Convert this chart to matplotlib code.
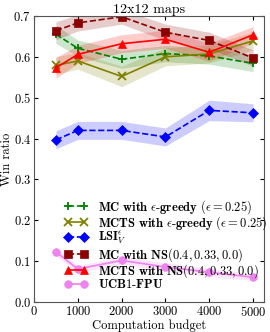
import numpy as np
import matplotlib
matplotlib.use('Agg')
import matplotlib.pyplot as plt

plt.rcParams['font.family'] = 'serif'
plt.rcParams['font.serif'] = ['cmr10', 'DejaVu Serif']
plt.rcParams['mathtext.fontset'] = 'cm'
plt.rcParams['axes.formatter.use_mathtext'] = True
plt.rcParams['axes.unicode_minus'] = False

# computation budgets
budget = [500, 1000, 2000, 3000, 4000, 5000]

# win ratios per method
mc_eps = [0.655, 0.621, 0.594, 0.608, 0.602, 0.584]
mcts_eps = [0.579, 0.590, 0.552, 0.600, 0.607, 0.639]
lsi = [0.397, 0.420, 0.420, 0.404, 0.469, 0.463]
mc_ns = [0.664, 0.683, 0.698, 0.660, 0.640, 0.597]
mcts_ns = [0.573, 0.606, 0.632, 0.643, 0.611, 0.654]
ucb = [0.123, 0.081, 0.102, 0.086, 0.073, 0.061]

# band half widths (read from shading)
mc_eps_err = [0.022, 0.020, 0.022, 0.020, 0.020, 0.020]
mcts_eps_err = [0.022, 0.020, 0.025, 0.022, 0.022, 0.022]
lsi_err = [0.022, 0.022, 0.022, 0.022, 0.025, 0.022]
mc_ns_err = [0.022, 0.020, 0.018, 0.020, 0.020, 0.020]
mcts_ns_err = [0.025, 0.022, 0.022, 0.022, 0.022, 0.020]
ucb_err = [0.010, 0.008, 0.010, 0.010, 0.010, 0.008]

series = [
    (mc_eps, mc_eps_err, r'$\mathbf{MC\ with\ }\epsilon\mathbf{\text{-}greedy}\ (\epsilon=0.25)$', '#008000', '--', '+'),
    (mcts_eps, mcts_eps_err, r'$\mathbf{MCTS\ with\ }\epsilon\mathbf{\text{-}greedy}\ (\epsilon=0.25)$', '#808000', '-', 'x'),
    (lsi, lsi_err, r'$\mathbf{LSI}_V^\epsilon$', '#0000ff', '--', 'D'),
    (mc_ns, mc_ns_err, r'$\mathbf{MC\ with\ NS}(0.4,0.33,0.0)$', '#8b0000', '--', 's'),
    (mcts_ns, mcts_ns_err, r'$\mathbf{MCTS\ with\ NS}(0.4,0.33,0.0)$', '#ff0000', '-', '^'),
    (ucb, ucb_err, r'$\mathbf{UCB1\text{-}FPU}$', '#ee82ee', '-', 'o'),
]

fig = plt.figure(figsize=(2.7, 3.32), dpi=100)
ax = fig.add_axes([0.126, 0.09, 0.852, 0.862])

x = np.array(budget)
for y, e, lab, c, ls, m in series:
    y = np.array(y)
    e = np.array(e)
    ax.fill_between(x, y - e, y + e, color=c, alpha=0.2, linewidth=0)
    if m in ('+', 'x'):
        ms, mew = 6, 1.3
    elif m == 'D':
        ms, mew = 5, 0.5
    else:
        ms, mew = 5.5, 0.5
    ax.plot(x, y, color=c, linestyle=ls, marker=m, markersize=ms,
            markeredgewidth=mew, markeredgecolor=c, linewidth=1.2, label=lab)

ax.set_xlim(0, 5250)
ax.set_ylim(0.0, 0.7)
ax.set_xticks([0, 1000, 2000, 3000, 4000, 5000])
ax.set_yticks([0.0, 0.1, 0.2, 0.3, 0.4, 0.5, 0.6, 0.7])
ax.tick_params(direction='in', top=True, right=True, labelsize=9, length=3, pad=2)
for s in ax.spines.values():
    s.set_color('#555555')
ax.set_xlabel('Computation budget', fontsize=9, labelpad=0)
ax.set_ylabel('Win ratio', fontsize=9, labelpad=0)
ax.set_title('12x12 maps', fontsize=10, pad=2)

ax.legend(loc='lower left', bbox_to_anchor=(0.11, 0.02), frameon=False,
          fontsize=9, numpoints=2, handlelength=1.9, labelspacing=-0.12,
          handletextpad=0.8, borderaxespad=0)

fig.savefig('out.png', dpi=100)
